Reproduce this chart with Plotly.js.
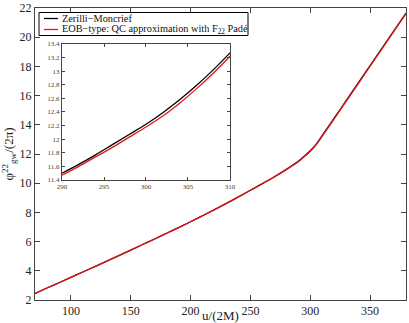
<!DOCTYPE html>
<html><head><meta charset="utf-8">
<script src="https://cdn.plot.ly/plotly-3.0.1.min.js"></script>
<style>html,body{margin:0;padding:0;background:#fff}#c{width:409px;height:323px}</style>
</head><body><div id="c"></div>
<script>
// Main range data
const uMain = [70,80,90,100,110,120,130,140,150,160,170,180,190,200,210,220,230,240,250,260,270,280,290,295,300,305,310,320,330,340,350,360,370,380];
const zmMain = [2.45,2.82,3.18,3.55,3.92,4.29,4.66,5.04,5.42,5.80,6.18,6.57,6.96,7.36,7.77,8.19,8.62,9.06,9.52,9.97,10.44,10.95,11.50,11.85,12.22,12.68,13.27,14.45,15.65,16.85,18.05,19.25,20.45,21.65];
const eobMain = [2.45,2.82,3.18,3.55,3.92,4.29,4.66,5.04,5.42,5.80,6.18,6.57,6.96,7.36,7.77,8.19,8.62,9.06,9.52,9.96,10.43,10.93,11.47,11.82,12.18,12.64,13.22,14.41,15.61,16.81,18.01,19.21,20.41,21.61];
// Inset (zoom) data
const uInset = [290,292,294,296,298,300,302,304,306,308,310];
const zmInset = [11.50,11.63,11.77,11.92,12.07,12.22,12.39,12.58,12.79,13.02,13.27];
const eobInset = [11.47,11.60,11.74,11.88,12.03,12.18,12.34,12.53,12.74,12.97,13.22];
const names = ["Zerilli\u2212Moncrief","EOB\u2212type: QC approximation with F<sub>22</sub> Pad\u00e9"];
const colors = ["#000","#e8141a"];

const F = "Liberation Serif";
const traces = [
  {x:uMain,y:zmMain,mode:"lines",line:{color:colors[0],width:1.3,shape:"spline"},name:names[0]},
  {x:uMain,y:eobMain,mode:"lines",line:{color:colors[1],width:1.3,shape:"spline"},name:names[1]},
  {x:uInset,y:zmInset,mode:"lines",line:{color:colors[0],width:1.3,shape:"spline"},xaxis:"x2",yaxis:"y2",name:names[0]},
  {x:uInset,y:eobInset,mode:"lines",line:{color:colors[1],width:1.3,shape:"spline"},xaxis:"x2",yaxis:"y2",name:names[1]}
];
// legend drawn manually (compact, like the reference)
const px = p => (p-35)/371, py = p => (300-p)/292;
const legY = [18.5, 29.5];
const shapes = [{type:"rect",xref:"paper",yref:"paper",x0:px(39),x1:px(248),y0:py(35.5),y1:py(12.5),line:{color:"#000",width:1},fillcolor:"#fff",layer:"above"}];
const annotations = [];
names.forEach((n,i)=>{
  shapes.push({type:"line",xref:"paper",yref:"paper",x0:px(44),x1:px(58),y0:py(legY[i]),y1:py(legY[i]),line:{color:colors[i],width:1.3},layer:"above"});
  annotations.push({xref:"paper",yref:"paper",x:px(61),y:py(legY[i]),xanchor:"left",yanchor:"middle",text:n,showarrow:false,font:{size:10.3,family:F,color:"#111"},borderpad:0});
});
const axBase = {showgrid:false,zeroline:false,showline:true,linecolor:"#444",linewidth:1,mirror:"ticks",ticks:"inside",tickcolor:"#444"};
const layout = {
  width:409,height:323,margin:{l:35,r:3,t:8,b:23},
  paper_bgcolor:"#fff",plot_bgcolor:"#fff",showlegend:false,
  font:{family:F,color:"#222",size:12},
  xaxis:Object.assign({},axBase,{range:[70,380],dtick:50,tick0:0,ticklen:5,tickfont:{size:12,family:F},
    title:{text:"u/(2M)",font:{size:13,family:F},standoff:0}}),
  yaxis:Object.assign({},axBase,{range:[2,22],dtick:2,tick0:0,ticklen:5,tickfont:{size:12,family:F},
    title:{text:"\u03c6<sup>22</sup><sub>gw</sub>/(2\u03c0)",font:{size:13,family:F},standoff:5}}),
  xaxis2:Object.assign({},axBase,{domain:[0.0728,0.5256],anchor:"y2",range:[290,310],dtick:5,ticklen:3,tickfont:{size:7,family:F,color:"#444"}}),
  yaxis2:Object.assign({},axBase,{domain:[0.411,0.8767],anchor:"x2",range:[11.4,13.4],dtick:0.2,tick0:0,ticklen:3,tickfont:{size:7,family:F,color:"#444"}}),
  shapes:shapes, annotations:annotations
};
Plotly.newPlot("c",traces,layout,{displayModeBar:false,staticPlot:true});
</script></body></html>
